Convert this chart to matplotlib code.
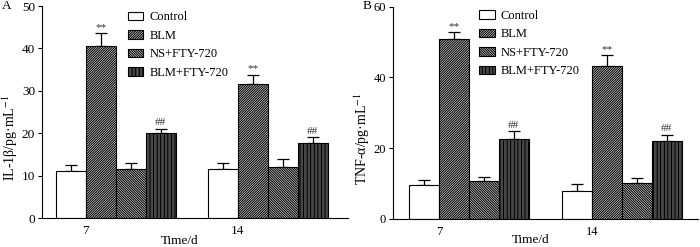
import matplotlib
matplotlib.use("Agg")
import matplotlib.pyplot as plt
import numpy as np

plt.rcParams["font.family"] = ["Liberation Serif", "DejaVu Serif"]
plt.rcParams["mathtext.fontset"] = "stix"
plt.rcParams["hatch.linewidth"] = 0.8

groups = ["7", "14"]
series = ["Control", "BLM", "NS+FTY-720", "BLM+FTY-720"]
hatches = ["", "/" * 14, "\\" * 14, "|" * 12]

il1b_mean = [[11.1, 11.5], [40.5, 31.6], [11.5, 12.1], [20.0, 17.8]]
il1b_err = [[1.5, 1.5], [3.1, 2.2], [1.5, 1.8], [1.1, 1.3]]
il1b_marks = [["", ""], ["**", "**"], ["", ""], ["##", "##"]]

tnf_mean = [[9.5, 8.0], [50.9, 43.1], [10.7, 10.2], [22.6, 21.9]]
tnf_err = [[1.5, 1.9], [1.8, 3.2], [1.2, 1.5], [2.2, 1.9]]
tnf_marks = [["", ""], ["**", "**"], ["", ""], ["##", "##"]]


def draw_panel(ax, means, errs, marks, group_gap, xlim, ylim, yticks, ylabel, ylabel_x,
               legend_xy, tick_size, xlabel_y):
    x0 = np.array([0.0, group_gap])
    for i, name in enumerate(series):
        xs = x0 + i
        ax.bar(xs, means[i], width=1.0, align="edge", facecolor="white", edgecolor="black",
               linewidth=0.8, hatch=hatches[i], label=name, zorder=2)
        ax.errorbar(xs + 0.5, means[i], yerr=[np.zeros(len(xs)), errs[i]], fmt="none",
                    ecolor="black", elinewidth=0.9, capsize=4.5, capthick=0.9, zorder=1)
        for x, m, e, s in zip(xs, means[i], errs[i], marks[i]):
            if s:
                ax.annotate(s, (x + 0.5, m + e), xytext=(0, 1), textcoords="offset points",
                            ha="center", va="bottom", fontsize=8, color="#333333")
    ax.set_xlim(*xlim)
    ax.set_ylim(*ylim)
    ax.set_yticks(yticks)
    ax.set_xticks(x0 + 1)
    ax.set_xticklabels(groups)
    ax.tick_params(axis="x", length=0, pad=5, labelsize=tick_size)
    ax.tick_params(axis="y", length=3, width=0.8, pad=2, labelsize=tick_size)
    for side in ["top", "right"]:
        ax.spines[side].set_visible(False)
    for side in ["left", "bottom"]:
        ax.spines[side].set_linewidth(0.8)
    ax.set_ylabel(ylabel, fontsize=10, va="center")
    ax.yaxis.set_label_coords(ylabel_x, 0.38)
    ax.set_xlabel("Time/d", fontsize=9.5)
    ax.xaxis.set_label_coords(0.45, xlabel_y)
    ax.xaxis.label.set_va("center")
    ax.legend(loc="upper left", bbox_to_anchor=legend_xy, frameon=False, fontsize=9,
              handlelength=1.25, handleheight=0.7, handletextpad=0.5, labelspacing=0.52,
              borderpad=0, borderaxespad=0)


fig = plt.figure(figsize=(7.0, 2.47), dpi=100)
ax_a = fig.add_axes([0.06, 0.1174, 0.437, 0.858])
ax_b = fig.add_axes([0.5614, 0.1134, 0.4357, 0.86])

draw_panel(ax_a, il1b_mean, il1b_err, il1b_marks, 5.07, (-0.46, 9.74), (0, 50),
           [0, 10, 20, 30, 40, 50], r"IL-1β/pg·mL$^{-1}$", -0.105, (0.28, 0.975), 9.5, -0.11)
draw_panel(ax_b, tnf_mean, tnf_err, tnf_marks, 5.1, (-0.53, 9.64), (0, 60),
           [0, 20, 40, 60], r"TNF-α/pg·mL$^{-1}$", -0.1, (0.282, 0.985), 9, -0.1)

fig.text(0.003, 0.975, "A", fontsize=9.5, va="center")
fig.text(0.518, 0.975, "B", fontsize=9.5, va="center")

fig.savefig("out.png", dpi=100)
